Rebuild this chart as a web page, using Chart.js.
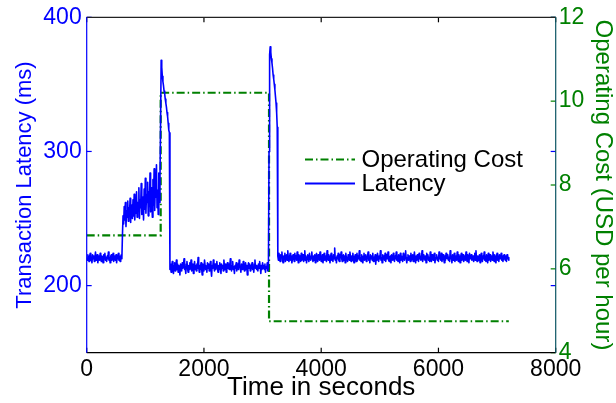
<!DOCTYPE html>
<html>
<head>
<meta charset="utf-8">
<script src="https://cdn.jsdelivr.net/npm/chart.js@4.4.1/dist/chart.umd.min.js"></script>
<style>
  html, body { margin: 0; padding: 0; background: #fff; }
  #chart { display: block; }
</style>
</head>
<body>
<canvas id="chart" width="616" height="403"></canvas>
<script>
// latency samples, one every 10 s, split into runs
const sampleStep = 10;
const segmentStarts = [0, 610, 1260, 1420, 3110, 3260];

const latencyBase = [
  221,219,223,220,218,222,224,219,221,217,
  223,220,222,218,221,225,219,220,223,217,
  221,222,219,224,220,218,222,221,217,223,
  220,224,219,221,218,222,220,225,219,221,
  217,222,223,219,220,224,218,221,222,219,
  223,217,221,220,224,219,222,218,221,223,
  220];
const latencyRamp = [
  238,252,246,259,249,262,244,256,251,263,
  248,258,253,265,247,260,255,250,264,252,
  268,249,259,254,270,251,262,256,273,250,
  264,258,276,253,266,260,249,272,257,280,
  254,268,262,277,252,270,259,284,255,273,
  263,251,279,260,287,256,275,266,290,258,
  271,253,284,262,280];
const latencySpike1 = [320,368,363,356,352,349,345,343,339,336,333,329,326,321,316,314];
const latencyLow = [
  212,216,210,214,218,213,209,215,217,211,
  214,219,212,216,210,215,213,208,216,214,
  211,217,213,215,220,212,214,209,216,218,
  213,210,215,212,217,214,219,211,213,216,
  209,214,218,212,215,211,216,213,221,214,
  210,215,212,217,213,208,216,214,211,219,
  215,212,214,210,217,213,216,211,214,218,
  212,207,215,213,219,214,211,216,212,215,
  218,213,210,215,212,217,214,209,216,213,
  215,211,219,214,212,216,210,214,217,213,
  216,212,214,220,213,211,215,218,212,214,
  209,215,213,217,211,216,214,212,219,215,
  213,210,216,214,212,218,215,211,214,217,
  212,215,208,214,217,213,216,211,215,213,
  217,212,214,210,216,219,213,215,212,214,
  211,216,213,218,214,209,215,212,217,213,
  215,212,216,210,214,213,217,211,213];
const latencySpike2 = [300,372,378,374,369,366,362,357,354,350,346,341,336,329,318];
const latencySteady = [
  222,219,224,220,218,223,221,225,219,217,
  222,220,224,218,221,223,219,226,220,218,
  221,224,219,222,217,220,223,221,218,224,
  220,222,219,225,221,217,223,220,222,218,
  224,219,221,223,218,220,226,219,222,217,
  221,223,220,218,224,221,219,222,225,220,
  218,222,219,223,217,221,224,220,218,223,
  221,219,225,222,218,220,223,217,221,224,
  219,222,220,218,226,221,219,223,220,217,
  222,224,219,221,218,223,220,228,219,221,
  217,222,220,224,219,218,223,221,225,220,
  218,221,223,219,222,217,224,220,221,218,
  223,220,219,225,221,218,222,219,224,220,
  217,221,223,220,218,224,219,222,220,226,
  219,221,218,223,220,217,222,224,219,221,
  223,218,220,222,225,219,221,217,223,220,
  222,219,224,218,221,220,223,216,222,219,
  224,221,218,222,220,226,219,221,217,223,
  220,222,219,224,218,221,223,220,225,219,
  218,221,222,217,223,220,219,224,221,218,
  222,220,225,219,221,218,223,221,217,224,
  219,222,220,218,224,221,219,223,226,220,
  217,221,223,219,222,220,218,224,219,221,
  223,218,221,225,220,217,222,219,223,221,
  218,224,220,222,219,221,226,218,220,223,
  221,219,222,217,224,220,223,219,221,218,
  225,220,218,223,221,219,222,224,217,221,
  220,223,219,221,218,225,220,222,219,224,
  218,221,223,220,217,222,219,224,221,220,
  223,219,221,218,226,220,222,217,223,219,
  221,224,218,220,222,219,225,221,218,223,
  220,217,222,224,219,221,223,218,220,222,
  219,225,220,218,223,221,217,224,220,221,
  223,219,221,222,218,220,224,219,226,220,
  218,222,219,221,223,217,221,224,220,218,
  222,220,225,219,221,218,223,220,217,224,
  219,221,223,218,222,220,219,225,221,218,
  223,220,217,222,224,219,221,218,223,220,
  221,224,219,222,218,221,223,220,219,222,
  218,223,220,221,219];

// operating cost (USD per hour), step changes
const costTimes = [0, 1262, 1262, 3110, 3110, 7200];
const costValues = [6.8, 6.8, 10.2, 10.2, 4.75, 4.75];

const timeTicks = [0, 2000, 4000, 6000, 8000];
const latencyTicks = [200, 300, 400];
const costTicks = [4, 6, 8, 10, 12];

const BLUE = '#0000ff';
const GREEN = '#008000';
const FONT = "'Liberation Sans', Arial, Helvetica, sans-serif";

const latencyRuns = [latencyBase, latencyRamp, latencySpike1, latencyLow, latencySpike2, latencySteady];
const latencyPoints = latencyRuns.flatMap((run, k) =>
  run.map((v, i) => ({ x: segmentStarts[k] + i * sampleStep, y: v }))
);
const costPoints = costTimes.map((t, i) => ({ x: t, y: costValues[i] }));

const setTicks = list => scale => { scale.ticks = list.map(v => ({ value: v })); };

const framePlugin = {
  id: 'frame',
  afterDatasetsDraw(chart) {
    const { ctx, chartArea: a, scales } = chart;
    const len = 5;
    const line = (x1, y1, x2, y2, color) => {
      ctx.strokeStyle = color;
      ctx.beginPath();
      ctx.moveTo(x1, y1);
      ctx.lineTo(x2, y2);
      ctx.stroke();
    };
    ctx.save();
    ctx.lineWidth = 1.2;
    scales.x.ticks.forEach(t => {
      const px = scales.x.getPixelForValue(t.value);
      line(px, a.bottom, px, a.bottom - len, '#000');
      line(px, a.top, px, a.top + len, '#000');
    });
    scales.y.ticks.forEach(t => {
      const py = scales.y.getPixelForValue(t.value);
      line(a.left, py, a.left + len, py, BLUE);
      line(a.right, py, a.right - len, py, BLUE);
    });
    scales.y1.ticks.forEach(t => {
      const py = scales.y1.getPixelForValue(t.value);
      line(a.right, py, a.right - len, py, GREEN);
    });
    line(a.left, a.top, a.right, a.top, '#222');
    line(a.left, a.bottom, a.right, a.bottom, '#000');
    line(a.left, a.top, a.left, a.bottom, BLUE);
    line(a.right, a.top, a.right, a.bottom, '#0b5563');
    ctx.restore();
  }
};

const legendPlugin = {
  id: 'insideLegend',
  afterDraw(chart) {
    const ctx = chart.ctx;
    const rows = [1, 0];
    ctx.save();
    ctx.font = '24px ' + FONT;
    ctx.textBaseline = 'middle';
    ctx.fillStyle = '#000';
    rows.forEach((di, r) => {
      const ds = chart.data.datasets[di];
      const y = 159.5 + r * 24;
      ctx.strokeStyle = ds.borderColor;
      ctx.lineWidth = 2;
      ctx.setLineDash(ds.borderDash || []);
      ctx.beginPath();
      ctx.moveTo(305, y);
      ctx.lineTo(355, y);
      ctx.stroke();
      ctx.setLineDash([]);
      ctx.fillText(ds.label, 361.5, y + 0.5);
    });
    ctx.restore();
  }
};

Chart.defaults.font.family = FONT;

new Chart(document.getElementById('chart'), {
  type: 'line',
  data: {
    datasets: [
      {
        label: 'Latency',
        data: latencyPoints,
        yAxisID: 'y',
        borderColor: BLUE,
        borderWidth: 1.6,
        borderJoinStyle: 'round',
        pointRadius: 0,
        tension: 0
      },
      {
        label: 'Operating Cost',
        data: costPoints,
        yAxisID: 'y1',
        borderColor: GREEN,
        borderWidth: 2.2,
        borderDash: [8, 3, 1.5, 3],
        pointRadius: 0,
        tension: 0
      }
    ]
  },
  options: {
    responsive: false,
    animation: false,
    devicePixelRatio: 1,
    layout: { padding: { top: 17.3, left: 0, right: 0, bottom: 0 } },
    plugins: {
      legend: { display: false },
      tooltip: { enabled: false }
    },
    scales: {
      x: {
        type: 'linear',
        min: 0,
        max: 8000,
        afterBuildTicks: setTicks(timeTicks),
        afterFit: s => { s.height = 50.3; },
        grid: { display: false, drawTicks: false },
        border: { display: false },
        ticks: {
          color: '#000',
          padding: 5.5,
          maxRotation: 0,
          font: { size: 23, lineHeight: 1 },
          callback: v => String(v)
        },
        title: {
          display: true,
          text: 'Time in seconds',
          color: '#000',
          font: { size: 26, lineHeight: 1 },
          padding: { top: 0, bottom: 2 }
        }
      },
      y: {
        type: 'linear',
        position: 'left',
        min: 150,
        max: 400,
        afterBuildTicks: setTicks(latencyTicks),
        afterFit: s => { s.width = 86.7; },
        grid: { display: false, drawTicks: false },
        border: { display: false },
        ticks: {
          color: BLUE,
          padding: 5,
          font: { size: 23, lineHeight: 1 },
          callback: v => String(v)
        },
        title: {
          display: true,
          text: 'Transaction Latency (ms)',
          color: BLUE,
          font: { size: 22, lineHeight: 1 },
          padding: { top: 14, bottom: 0 }
        }
      },
      y1: {
        type: 'linear',
        position: 'right',
        min: 4,
        max: 12,
        afterBuildTicks: setTicks(costTicks),
        afterFit: s => { s.width = 60.3; },
        grid: { display: false, drawTicks: false, drawOnChartArea: false },
        border: { display: false },
        ticks: {
          color: GREEN,
          padding: 3,
          font: { size: 23, lineHeight: 1 },
          callback: v => String(v)
        },
        title: {
          display: true,
          text: 'Operating Cost (USD per hour)',
          color: GREEN,
          font: { size: 24, lineHeight: 1 },
          padding: { top: 1.5, bottom: 0 }
        }
      }
    }
  },
  plugins: [framePlugin, legendPlugin]
});
</script>
</body>
</html>
